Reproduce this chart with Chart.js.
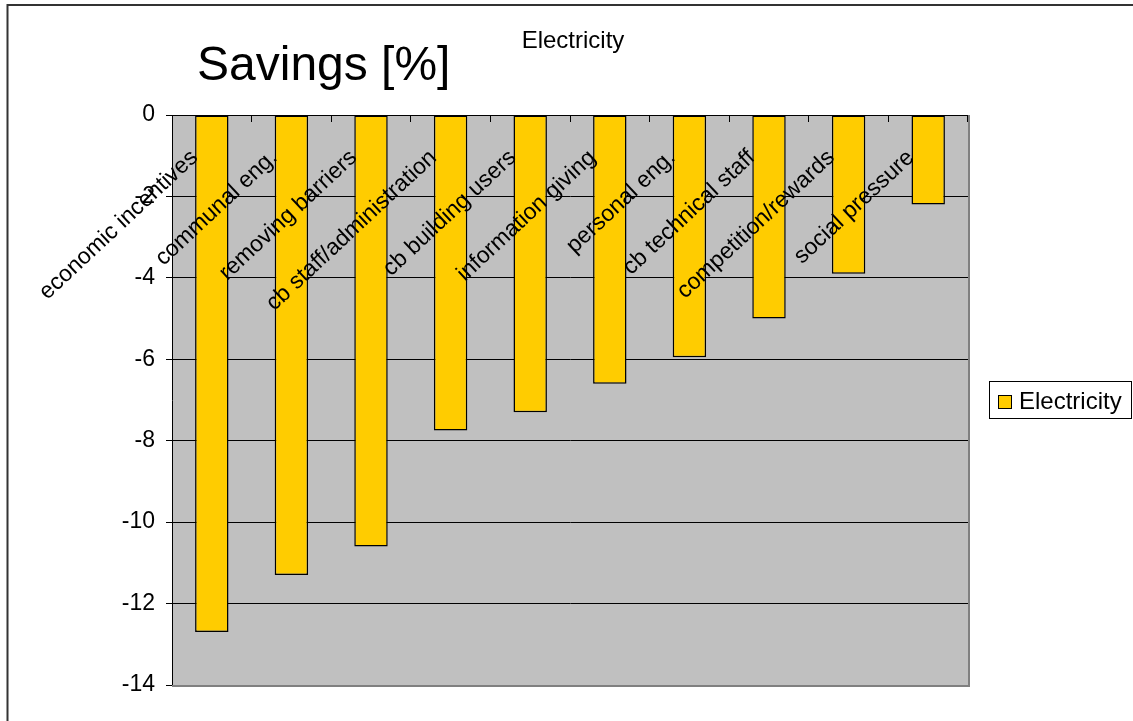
<!DOCTYPE html>
<html>
<head>
<meta charset="utf-8">
<title>Savings [%] - Electricity</title>
<script src="https://cdn.jsdelivr.net/npm/chart.js@4/dist/chart.umd.min.js"></script>
<style>
  html, body { margin: 0; padding: 0; background: #fff; }
</style>
</head>
<body>
<canvas id="savingsChart" width="1133" height="721"></canvas>
<script>
// categories and values
const categories = [
  'economic incentives', 'communal eng.', 'removing barriers', 'cb staff/administration',
  'cb building users', 'information giving', 'personal eng.', 'cb technical staff',
  'competition/rewards', 'social pressure'
];
const electricity = [-12.7, -11.3, -10.6, -7.75, -7.3, -6.6, -5.95, -5.0, -3.9, -2.2];
const seriesName = 'Electricity';
const axisTitle = 'Savings [%]';
const yMin = -14;
const yMax = 0;
const yStep = 2;

const FONT = '"Liberation Sans", Arial, sans-serif';
const BAR_COLOR = '#ffcc00';

// background, frame, category labels, titles and legend box
const excelLook = {
  id: 'excelLook',
  beforeDraw(chart) {
    const { ctx, chartArea: a } = chart;
    ctx.save();
    ctx.fillStyle = '#ffffff';
    ctx.fillRect(0, 0, chart.width, chart.height);
    ctx.fillStyle = '#c0c0c0';
    ctx.fillRect(a.left, a.top, a.right - a.left, a.bottom - a.top);
    ctx.strokeStyle = '#333333';
    ctx.lineWidth = 2;
    ctx.beginPath();
    ctx.moveTo(7.5, chart.height);
    ctx.lineTo(7.5, 5);
    ctx.lineTo(chart.width, 5);
    ctx.stroke();
    ctx.restore();
  },
  afterDatasetsDraw(chart) {
    const { ctx, chartArea: a } = chart;
    const x = chart.scales.x;
    const y0 = chart.scales.y.getPixelForValue(0);
    ctx.save();
    // plot border right / bottom
    ctx.strokeStyle = '#808080';
    ctx.lineWidth = 2;
    ctx.beginPath();
    ctx.moveTo(a.right + 1, a.top);
    ctx.lineTo(a.right + 1, a.bottom + 1);
    ctx.lineTo(a.left, a.bottom + 1);
    ctx.stroke();
    // slanted category labels hanging from the zero line
    ctx.fillStyle = '#000';
    ctx.font = '23px ' + FONT;
    ctx.textAlign = 'right';
    ctx.textBaseline = 'alphabetic';
    categories.forEach((label, i) => {
      ctx.save();
      ctx.translate(x.getPixelForValue(i) - 13, y0 + 44);
      ctx.rotate(-43 * Math.PI / 180);
      ctx.fillText(label, 0, 0);
      ctx.restore();
    });
    ctx.restore();
  },
  afterDraw(chart) {
    const { ctx } = chart;
    ctx.save();
    ctx.fillStyle = '#000';
    ctx.textBaseline = 'alphabetic';
    ctx.textAlign = 'left';
    ctx.font = '48px ' + FONT;
    ctx.fillText(axisTitle, 197, 80);
    ctx.textAlign = 'center';
    ctx.font = '24px ' + FONT;
    ctx.fillText(seriesName, 573, 48);

    // legend
    ctx.strokeStyle = '#000';
    ctx.lineWidth = 1;
    ctx.strokeRect(989.5, 381.5, 142, 37);
    ctx.fillStyle = BAR_COLOR;
    ctx.fillRect(998.5, 395.5, 13, 13);
    ctx.strokeRect(998.5, 395.5, 13, 13);
    ctx.fillStyle = '#000';
    ctx.textAlign = 'left';
    ctx.textBaseline = 'middle';
    ctx.font = '24px ' + FONT;
    ctx.fillText(seriesName, 1019, 402);
    ctx.restore();
  }
};

new Chart(document.getElementById('savingsChart'), {
  type: 'bar',
  data: {
    labels: categories,
    datasets: [{
      label: seriesName,
      data: electricity,
      backgroundColor: BAR_COLOR,
      borderColor: '#000',
      borderWidth: 1.5,
      borderSkipped: false,
      categoryPercentage: 1,
      barPercentage: 0.42
    }]
  },
  options: {
    responsive: false,
    animation: false,
    layout: { padding: { left: 0, top: 115, right: 165, bottom: 36 } },
    plugins: {
      legend: { display: false },
      title: { display: false },
      tooltip: { enabled: false }
    },
    scales: {
      x: {
        position: { y: 0 },
        grid: {
          offset: true,
          drawOnChartArea: false,
          drawTicks: true,
          tickLength: 7,
          color: '#000'
        },
        border: { display: false },
        ticks: { display: false, autoSkip: false }
      },
      y: {
        min: yMin,
        max: yMax,
        afterFit(scale) { scale.width = 172; },
        ticks: {
          stepSize: yStep,
          padding: 11,
          color: '#000',
          font: { family: FONT, size: 23 },
          callback: v => v
        },
        grid: {
          color: '#000',
          lineWidth: 1,
          tickLength: 6
        },
        border: { color: '#000', width: 1 }
      }
    }
  },
  plugins: [excelLook]
});
</script>
</body>
</html>
